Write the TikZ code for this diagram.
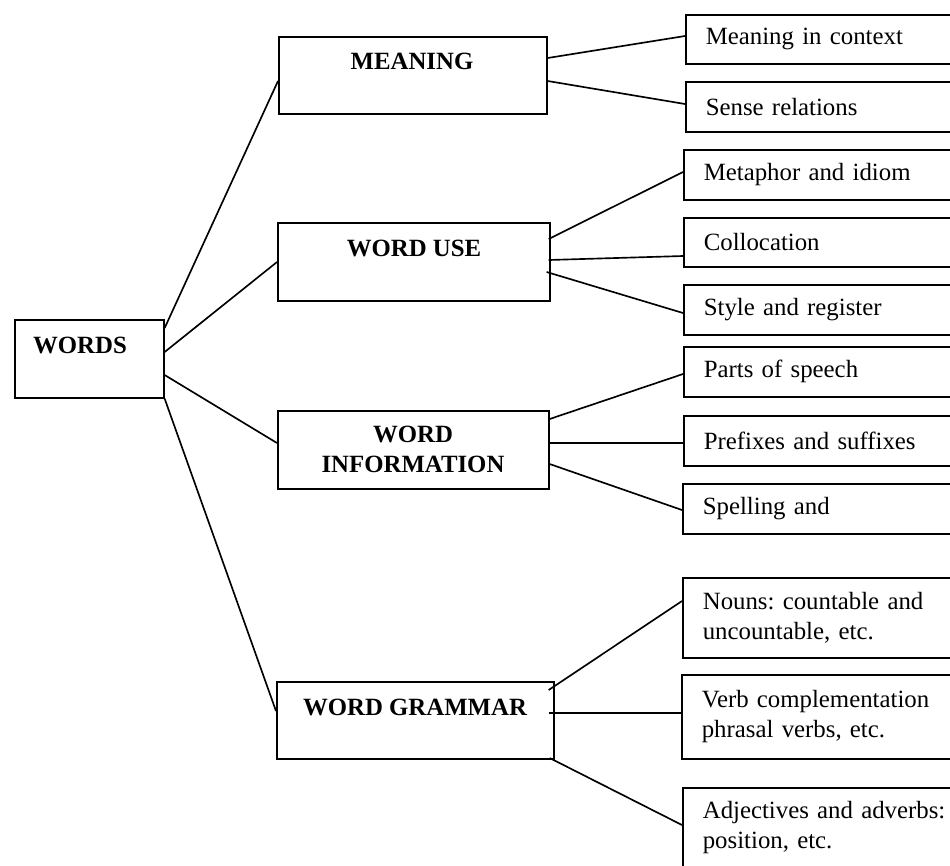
\documentclass[tikz,border=0pt]{standalone}
\usepackage{fontspec}
\setmainfont{Liberation Serif}
\frenchspacing
\usetikzlibrary{calc,positioning}
\tikzset{
	mainbox/.style={draw, line width=0.8pt, anchor=north west, inner sep=0pt},
	headtext/.style={font=\fontsize{12}{14.5}\selectfont\bfseries, align=center, inner sep=0pt},
	subbox/.style={draw, line width=0.8pt, anchor=north west, align=left, inner ysep=0pt,
		inner xsep=20*0.017cm, text width=260*0.017cm, font=\fontsize{12}{14.5}\selectfont\frenchspacing},
	branch/.style={line width=0.8pt}
}

\begin{document}
\begin{tikzpicture}[x=0.017cm, y=-0.017cm]
		%%%%% START %%%%%
		\useasboundingbox (0, 0) rectangle (950, 865);
		\clip (0, 0) rectangle (950, 865);
		
		% root
		\node[mainbox, minimum width=149*0.017cm, minimum height=78*0.017cm] (words) at (14, 319) {};
		\node[headtext] (wordsT) at (80, 345) {WORDS};
		
		% second level
		\node[mainbox, minimum width=268*0.017cm, minimum height=77*0.017cm] (mean) at (278, 36) {};
		\node[headtext] (meanT) at (412, 61) {MEANING};
		\node[mainbox, minimum width=272*0.017cm, minimum height=78*0.017cm] (use) at (277, 222) {};
		\node[headtext] (useT) at (414, 248) {WORD USE};
		\node[mainbox, minimum width=271*0.017cm, minimum height=78*0.017cm] (info) at (277, 410) {};
		\node[headtext] (infoT) at (413, 449) {WORD\\INFORMATION};
		\node[mainbox, minimum width=277*0.017cm, minimum height=77*0.017cm] (gram) at (276, 681) {};
		\node[headtext] (gramT) at (415, 707) {WORD GRAMMAR};
		
		% third level
		\node[subbox, minimum height=49*0.017cm] (ctx) at (685, 14) {Meaning in context};
		\node[subbox, minimum height=50*0.017cm] (sense) at (685, 81) {Sense relations};
		\node[subbox, minimum height=50*0.017cm] (meta) at (683, 149) {Metaphor and idiom};
		\node[subbox, minimum height=49*0.017cm] (coll) at (683, 217) {Collocation};
		\node[subbox, minimum height=50*0.017cm] (style) at (683, 284) {Style and register};
		\node[subbox, minimum height=50*0.017cm] (parts) at (683, 346) {Parts of speech};
		\node[subbox, minimum height=50*0.017cm] (prefix) at (683, 415) {Prefixes and suffixes};
		\node[subbox, minimum height=50*0.017cm] (spell) at (682, 483) {Spelling and};
		\node[subbox, minimum height=80*0.017cm] (nouns) at (682, 577) {Nouns: countable and\\uncountable, etc.};
		\node[subbox, minimum height=84*0.017cm] (verb) at (681, 674) {Verb complementation\\phrasal verbs, etc.};
		\node[subbox, minimum height=80*0.017cm] (adj) at (682, 787) {Adjectives and adverbs:\\position, etc.};
		
		% root to second level
		\draw[branch] ($(words.north east)+(0, 9)$) -- ($(mean.north west)+(0, 45)$);
		\draw[branch] ($(words.north east)+(0, 33)$) -- ($(use.north west)+(0, 40)$);
		\draw[branch] ($(words.north east)+(0, 56)$) -- ($(info.north west)+(0, 33)$);
		\draw[branch] (words.south east) -- ($(gram.north west)+(0, 30)$);
		
		% second to third level
		\draw[branch] ($(mean.north east)+(0, 22)$) -- ($(ctx.north west)+(0, 22)$);
		\draw[branch] ($(mean.north east)+(0, 45)$) -- ($(sense.north west)+(0, 23)$);
		
		\draw[branch] ($(use.north east)+(-2, 17)$) -- ($(meta.north west)+(0, 23)$);
		\draw[branch] ($(use.north east)+(-2, 38)$) -- ($(coll.north west)+(0, 39)$);
		\draw[branch] ($(use.north east)+(-4, 50)$) -- ($(style.north west)+(0, 29)$);
		
		\draw[branch] ($(info.north east)+(0, 9)$) -- ($(parts.north west)+(0, 28)$);
		\draw[branch] ($(info.north east)+(0, 33)$) -- ($(prefix.north west)+(0, 28)$);
		\draw[branch] ($(info.north east)+(0, 54)$) -- ($(spell.north west)+(0, 27)$);
		
		\draw[branch] ($(gram.north east)+(-6, 9)$) -- ($(nouns.north west)+(0, 24)$);
		\draw[branch] ($(gram.north east)+(-6, 32)$) -- ($(verb.north west)+(0, 39)$);
		\draw[branch] ($(gram.north east)+(-5, 77)$) -- ($(adj.north west)+(0, 38)$);
		%%%%% END %%%%%
\end{tikzpicture}
\end{document}
